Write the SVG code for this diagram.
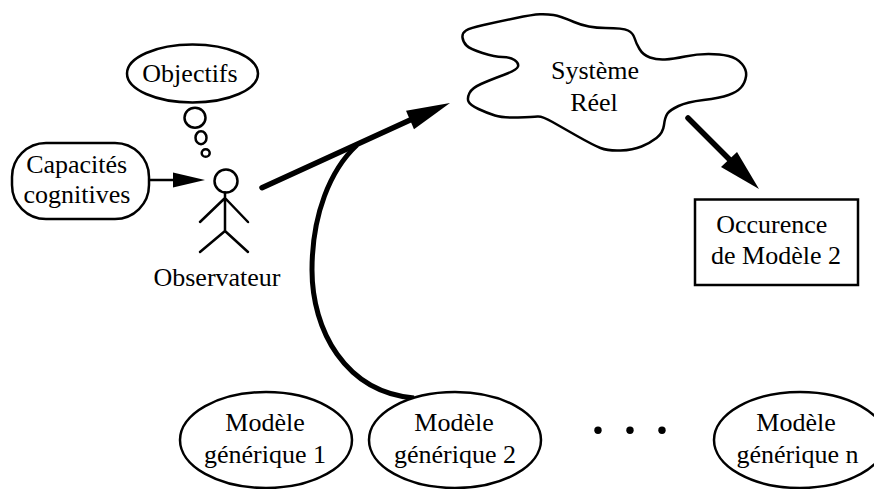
<svg xmlns="http://www.w3.org/2000/svg" width="874" height="489" viewBox="0 0 874 489">
<style>
text{font-family:"Liberation Serif","Times New Roman",serif;font-size:26px;fill:#000;text-anchor:middle}
.s{fill:#fff;stroke:#000;stroke-width:2.500}
.o{fill:none;stroke:#000;stroke-width:2.500;stroke-linecap:round;stroke-linejoin:round}
.t{fill:none;stroke:#000;stroke-width:5.500;stroke-linecap:round}
.h{fill:#000;stroke:none}
</style>
<rect width="874" height="489" fill="#fff"/>
<g id="connectors">
<path class="o" d="M149,180H180"/>
<polygon class="h" points="205,180 173,172.500 173,187.500"/>
<path class="t" style="stroke-width:5;stroke-linecap:butt" d="M414,398C345,392 312,330 312,270C312,215 330,170 357,145"/>
<path class="t" d="M262,187.700L420,115.500"/>
<polygon class="h" points="450,103 406,110.700 414,129.300"/>
<path class="t" d="M688,118L732,162"/>
<polygon class="h" points="759,189 721,167 737,152"/>
</g>
<g id="objectifs">
<ellipse class="s" cx="192.500" cy="73.500" rx="65.500" ry="29"/>
<text x="190" y="81.700">Objectifs</text>
<ellipse class="s" cx="195" cy="117.700" rx="10.500" ry="10"/>
<ellipse class="s" cx="201" cy="137.700" rx="5.500" ry="6.500"/>
<ellipse class="s" cx="205.700" cy="153" rx="4" ry="3.800"/>
</g>
<g id="capacites">
<rect class="s" x="12" y="143" width="137" height="76" rx="34" ry="34"/>
<text x="76.700" y="172.700">Capacités</text>
<text x="77" y="203">cognitives</text>
</g>
<g id="observateur">
<circle class="s" cx="226" cy="181" r="11.500"/>
<path class="o" d="M225,192.500V231M200,222L225,198L248,222M200,252L225,231L248,252"/>
<text x="217" y="286">Observateur</text>
</g>
<g id="systeme">
<path class="o" d="M540,14.250Q547,14 553.500,15Q560,16 574,22Q588,28 605.500,28Q623,28 628,30.500Q633,33 634.500,38Q636,43 639.500,49Q643,55 650,57.500Q657,60 665,59.500Q673,59 685,56.500Q697,54 708.500,54Q720,54 728.500,56Q737,58 742,64Q747,70 746,76.500Q745,83 741,87.500Q737,92 728.500,95Q720,98 703.500,100Q687,102 678.500,106Q670,110 667.500,113.500Q665,117 664,125Q663,133 656.500,138Q650,143 641.500,146.500Q633,150 620.500,150.500Q608,151 600.500,148Q593,145 578,136.500Q563,128 552.500,122Q542,116 537.500,116.500Q533,117 518,117.500Q503,118 495,115.500Q487,113 478.500,109Q470,105 468.500,101.500Q467,98 469.500,93Q472,88 481,84Q490,80 503.500,75Q517,70 518,66.500Q519,63 514.500,60Q510,57 502.500,57Q495,57 482.500,53Q470,49 466.500,45.500Q463,42 462.500,37.500Q462,33 466,30.500Q470,28 483.500,25Q497,22 515,18.250Q533,14.500 540,14.250Z"/>
<text x="595" y="79">Système</text>
<text x="594" y="110.600">Réel</text>
</g>
<g id="occurence">
<rect class="s" x="695" y="199.500" width="163" height="85.500"/>
<text x="771.700" y="233">Occurence</text>
<text x="776" y="264">de Modèle 2</text>
</g>
<g id="modele1">
<ellipse class="s" cx="266" cy="440" rx="86" ry="48"/>
<text x="265" y="431">Modèle</text>
<text x="265" y="463">générique 1</text>
</g>
<g id="modele2">
<ellipse class="s" cx="455" cy="440" rx="86" ry="48"/>
<text x="454" y="431">Modèle</text>
<text x="455" y="463">générique 2</text>
</g>
<g id="dots">
<circle cx="598" cy="430.300" r="3.700"/>
<circle cx="630" cy="430.300" r="3.700"/>
<circle cx="662" cy="430.300" r="3.700"/>
</g>
<g id="modelen">
<ellipse class="s" cx="800" cy="440" rx="86" ry="48"/>
<text x="796" y="431">Modèle</text>
<text x="797.500" y="463">générique n</text>
</g>
</svg>
